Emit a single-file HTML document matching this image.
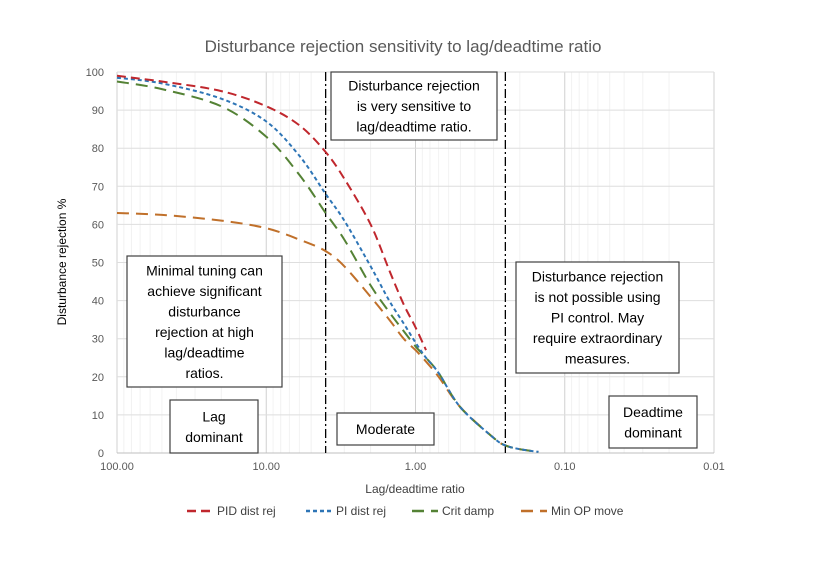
<!DOCTYPE html>
<html><head><meta charset="utf-8"><style>
body{margin:0;background:#fff;font-family:"Liberation Sans",sans-serif}
svg text{font-family:"Liberation Sans",sans-serif}
</style></head><body>
<svg width="827" height="562" viewBox="0 0 827 562" id="chart">
<text x="403" y="52" text-anchor="middle" font-size="17" fill="#595959">Disturbance rejection sensitivity to lag/deadtime ratio</text>
<g id="grid"></g><g id="axes"></g><g id="series"></g>
<text transform="translate(66,262) rotate(-90)" text-anchor="middle" font-size="12" fill="#000">Disturbance rejection %</text>
<text x="415" y="493" text-anchor="middle" font-size="12" fill="#404040">Lag/deadtime ratio</text>
<g id="boxes"></g><g id="legend"></g>
</svg>
<script>
const ratios=[100,50,20,10,6,4,3,2,1.5,1.2,1,0.85,0.7,0.5,0.3,0.25,0.2,0.15];
const pidVals=[99,97.5,95,91,86,79,72,60,48,39,33,27,null,null,null,null,null,null];
const piVals=[98.5,97,93,87,78,68,61,49,40,34,29,25,21,12,4,2,1,0.3];
const critVals=[97.5,95.5,91,83,73,63,56,44,37,32,28,25,21,12,4,2,1,0.3];
const minOpVals=[63,62.5,61,59,56,53,49,41,35,30,27,24,20,12,4,2,1,0.3];
const seriesNames=["PID dist rej","PI dist rej","Crit damp","Min OP move"];
const yTicks=[0,10,20,30,40,50,60,70,80,90,100];
const xTicks=[100,10,1,0.1,0.01];
const xTickLabels=["100.00","10.00","1.00","0.10","0.01"];
const regionLines=[4,0.25];
const NS="http://www.w3.org/2000/svg";
const L=117,R=714,T=72,B=453;
const xs=v=>L+(2-Math.log10(v))*(R-L)/4;
const ys=v=>B-v*(B-T)/100;
function mk(t,a,p){const e=document.createElementNS(NS,t);for(const k in a)e.setAttribute(k,a[k]);(p||document.getElementById('chart')).appendChild(e);return e;}
const grid=document.getElementById('grid'),axes=document.getElementById('axes'),ser=document.getElementById('series');
for(let d=-2;d<2;d++)for(let m=2;m<10;m++){const v=m*Math.pow(10,d);const l=mk('line',{x1:xs(v),x2:xs(v),y1:T,y2:B,stroke:'#f2f2f2','stroke-width':1},grid);}
xTicks.forEach((v,i)=>{const l=mk('line',{x1:xs(v),x2:xs(v),y1:T,y2:B,stroke:'#d0d0d0'},grid);
const t=mk('text',{x:xs(v),y:B+17,'text-anchor':'middle','font-size':11,fill:'#595959'},axes);t.textContent=xTickLabels[i];});
yTicks.forEach(v=>{const l=mk('line',{x1:L,x2:R,y1:ys(v),y2:ys(v),stroke:v===0?'#bfbfbf':'#dedede'},grid);
const t=mk('text',{x:L-13,y:ys(v)+4,'text-anchor':'end','font-size':11,fill:'#595959'},axes);t.textContent=v;});
regionLines.forEach(v=>{const l=mk('line',{x1:xs(v),x2:xs(v),y1:T,y2:B,stroke:'#000','stroke-width':1.3,'stroke-dasharray':'9,3,2,3'},ser);});
const styles=[{c:'#c0272d',d:'9,5'},{c:'#2e75b6',d:'4,3'},{c:'#548235',d:'12,7'},{c:'#c0702a',d:'12,7'}];
function smooth(pts){let d='M'+pts[0][0].toFixed(1)+','+pts[0][1].toFixed(1);for(let i=0;i<pts.length-1;i++){const p0=pts[i-1]||pts[i],p1=pts[i],p2=pts[i+1],p3=pts[i+2]||p2;
const c1=[p1[0]+(p2[0]-p0[0])/6,p1[1]+(p2[1]-p0[1])/6],c2=[p2[0]-(p3[0]-p1[0])/6,p2[1]-(p3[1]-p1[1])/6];
d+='C'+c1.map(n=>n.toFixed(1)).join(',')+' '+c2.map(n=>n.toFixed(1)).join(',')+' '+p2.map(n=>n.toFixed(1)).join(',');}return d;}
[pidVals,piVals,critVals,minOpVals].slice().reverse().forEach((arr,ri)=>{const i=3-ri;const pts=[];arr.forEach((v,k)=>{if(v==null)return;pts.push([xs(ratios[k]),ys(v)]);});
const p=mk('path',{d:smooth(pts),fill:'none',stroke:styles[i].c,'stroke-width':2,'stroke-dasharray':styles[i].d},ser);});
const boxes=document.getElementById('boxes');
const bx=[[331,72,166,68,['Disturbance rejection','is very sensitive to','lag/deadtime ratio.'],'sensitive-annotation'],
[127,256,155,131,['Minimal tuning can','achieve significant','disturbance','rejection at high','lag/deadtime','ratios.'],'lag-annotation'],
[516,262,163,111,['Disturbance rejection','is not possible using','PI control. May','require extraordinary','measures.'],'deadtime-annotation'],
[170,400,88,53,['Lag','dominant'],'lag-dominant-label'],
[337,413,97,32,['Moderate'],'moderate-label'],
[609,396,88,52,['Deadtime','dominant'],'deadtime-dominant-label']];
bx.forEach(b=>{const g=mk('g',{},boxes);
mk('rect',{x:b[0],y:b[1],width:b[2],height:b[3],fill:'#fff',stroke:'#404040','stroke-width':1.2},g);
const n=b[4].length,lh=20.5,y0=b[1]+b[3]/2-(n-1)*lh/2+5;
b[4].forEach((s,j)=>{const t=mk('text',{x:b[0]+b[2]/2,y:y0+j*lh,'text-anchor':'middle','font-size':14,fill:'#000'},g);t.textContent=s;});});
const lg=document.getElementById('legend');const lx=[187,306,412,521];
seriesNames.forEach((s,i)=>{const g=mk('g',{},lg);
mk('line',{x1:lx[i],x2:lx[i]+26,y1:511,y2:511,stroke:styles[i].c,'stroke-width':2.5,'stroke-dasharray':styles[i].d},g);
const t=mk('text',{x:lx[i]+30,y:515,'font-size':12,fill:'#404040'},g);t.textContent=s;});
</script>
</body></html>
